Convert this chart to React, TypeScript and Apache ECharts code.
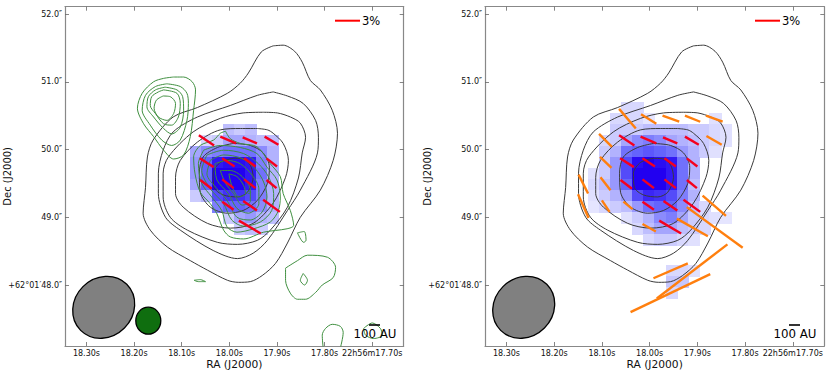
import React, { useEffect, useRef } from "react";
import * as echarts from "echarts";

type P = [number, number];

const raTicks = [18.3, 18.2, 18.1, 18.0, 17.9, 17.8, 17.7];
const decTicks = [52, 51, 50, 49, 48];
const raLabels = ["18.30s", "18.20s", "18.10s", "18.00s", "17.90s", "17.80s", "22h56m17.70s"];
const decLabels = ["52.0″", "51.0″", "50.0″", "49.0″", "+62°01′48.0″"];

const contourA: P[] = [[17.908,51.53],[17.887,51.54],[17.863,51.45],[17.847,51.29],[17.83,51.02],[17.809,50.88],[17.784,50.58],[17.773,50.24],[17.782,49.84],[17.809,49.4],[17.851,49.0],[17.878,48.62],[17.903,48.32],[17.931,48.14],[17.956,48.05],[17.981,48.04],[18.004,48.07],[18.046,48.22],[18.082,48.36],[18.13,48.56],[18.166,48.81],[18.181,49.06],[18.176,49.44],[18.172,49.89],[18.16,50.14],[18.118,50.48],[18.067,50.62],[18.004,50.83],[17.977,50.98],[17.96,51.13],[17.933,51.44]];
const contourB: P[] = [[17.908,50.85],[17.878,50.79],[17.845,50.68],[17.819,50.43],[17.813,50.18],[17.815,49.95],[17.851,49.4],[17.878,49.1],[17.92,48.66],[17.95,48.47],[17.983,48.39],[18.034,48.51],[18.103,48.81],[18.134,49.0],[18.149,49.35],[18.149,49.65],[18.139,49.99],[18.118,50.26],[18.067,50.48],[17.998,50.65],[17.941,50.8]];
const contourC: P[] = [[17.929,50.55],[17.899,50.54],[17.872,50.48],[17.851,50.39],[17.84,50.18],[17.847,49.95],[17.855,49.58],[17.878,49.15],[17.914,48.81],[17.941,48.66],[17.983,48.6],[18.025,48.63],[18.088,48.81],[18.124,49.0],[18.139,49.3],[18.139,49.65],[18.128,49.89],[18.076,50.26],[18.019,50.46],[17.971,50.54]];
const contourD: P[] = [[17.941,50.31],[17.92,50.29],[17.908,50.24],[17.887,50.09],[17.876,49.84],[17.882,49.59],[17.908,49.21],[17.95,48.91],[17.998,48.84],[18.046,48.91],[18.097,49.15],[18.113,49.35],[18.113,49.59],[18.103,49.84],[18.067,50.11],[18.019,50.29],[17.977,50.31]];
const contourE: P[] = [[17.992,50.09],[17.956,50.06],[17.929,49.95],[17.916,49.74],[17.92,49.5],[17.941,49.25],[17.971,49.1],[18.004,49.06],[18.04,49.15],[18.061,49.37],[18.063,49.65],[18.055,49.89],[18.025,50.03]];
const contourF: P[] = [[17.992,49.87],[17.971,49.86],[17.956,49.77],[17.95,49.59],[17.962,49.37],[17.983,49.3],[18.013,49.33],[18.032,49.44],[18.034,49.65],[18.019,49.81]];
const blackContours = [contourA, contourB, contourC, contourD, contourE, contourF];

const northA: P[] = [[18.117,51.07],[18.096,51.07],[18.078,51.0],[18.071,50.88],[18.075,50.58],[18.082,50.19],[18.096,49.92],[18.117,49.86],[18.138,49.99],[18.159,50.19],[18.18,50.38],[18.193,50.61],[18.183,50.83],[18.159,51.0],[18.138,51.05]];
const northB: P[] = [[18.131,50.97],[18.103,50.93],[18.089,50.83],[18.086,50.68],[18.089,50.43],[18.103,50.14],[18.121,50.06],[18.142,50.14],[18.166,50.36],[18.183,50.58],[18.176,50.8],[18.155,50.93]];
const northC: P[] = [[18.135,50.92],[18.11,50.88],[18.098,50.78],[18.096,50.58],[18.103,50.33],[18.121,50.23],[18.138,50.31],[18.159,50.48],[18.173,50.63],[18.17,50.78],[18.155,50.88]];
const northD: P[] = [[18.138,50.88],[18.11,50.83],[18.103,50.68],[18.107,50.48],[18.121,50.36],[18.138,50.38],[18.155,50.53],[18.166,50.65],[18.163,50.78],[18.149,50.85]];
const northE: P[] = [[18.139,50.79],[18.124,50.78],[18.113,50.68],[18.117,50.53],[18.131,50.43],[18.149,50.48],[18.158,50.61],[18.153,50.73]];
const coreA: P[] = [[18.008,50.27],[17.998,50.16],[17.977,50.09],[17.942,50.04],[17.914,49.79],[17.893,49.6],[17.887,49.35],[17.872,49.1],[17.865,48.88],[17.879,48.83],[17.928,48.78],[17.97,48.68],[17.998,48.71],[18.012,48.81],[18.026,49.05],[18.04,49.2],[18.061,49.37],[18.072,49.64],[18.075,49.89],[18.061,50.06],[18.033,50.14],[18.019,50.24]];
const coreB: P[] = [[18.054,49.99],[18.019,50.06],[17.977,50.03],[17.942,49.94],[17.921,49.74],[17.9,49.55],[17.893,49.3],[17.897,49.1],[17.914,48.93],[17.949,48.83],[17.984,48.78],[18.005,48.86],[18.016,49.1],[18.037,49.3],[18.058,49.5],[18.065,49.79]];
const coreC: P[] = [[18.047,49.92],[18.012,49.99],[17.97,49.94],[17.939,49.79],[17.918,49.6],[17.907,49.35],[17.911,49.1],[17.935,48.93],[17.97,48.87],[17.995,48.96],[18.012,49.2],[18.04,49.42],[18.058,49.69]];
const coreD: P[] = [[18.04,49.84],[18.012,49.92],[17.974,49.87],[17.946,49.72],[17.928,49.52],[17.921,49.3],[17.931,49.08],[17.956,48.96],[17.984,49.0],[18.005,49.25],[18.026,49.42],[18.047,49.64]];
const coreE: P[] = [[18.03,49.79],[18.005,49.84],[17.977,49.79],[17.952,49.62],[17.938,49.42],[17.938,49.2],[17.96,49.06],[17.984,49.13],[18.002,49.35],[18.026,49.55]];
const coreF: P[] = [[18.019,49.69],[17.998,49.69],[17.973,49.6],[17.956,49.4],[17.956,49.23],[17.973,49.18],[17.991,49.35],[18.008,49.5]];
const coreG: P[] = [[18.001,49.64],[17.984,49.6],[17.97,49.47],[17.966,49.35],[17.98,49.3],[17.994,49.45]];
const coreH: P[] = [[17.963,49.37],[17.959,49.39],[17.955,49.37],[17.959,49.35]];
const islandA: P[] = [[17.857,48.77],[17.843,48.79],[17.839,48.66],[17.844,48.63]];
const islandB: P[] = [[17.882,48.25],[17.857,48.36],[17.836,48.44],[17.794,48.41],[17.777,48.26],[17.782,48.11],[17.805,48.0],[17.819,47.89],[17.84,47.79],[17.857,47.79],[17.872,47.88],[17.882,48.07]];
const islandC: P[] = [[17.845,48.17],[17.836,48.07],[17.842,48.0],[17.851,48.07]];
const islandD: P[] = [[18.074,48.07],[18.061,48.08],[18.05,48.05],[18.065,48.05]];
const islandF: P[] = [[17.718,47.36],[17.7,47.44],[17.683,47.36],[17.679,47.26],[17.697,47.21],[17.714,47.26]];
const greenClosed = [northA, northB, northC, northD, northE, coreA, coreB, coreC, coreD, coreE, coreF, coreG, coreH, islandA, islandB, islandC, islandD, islandF];
const islandOpen: P[] = [[17.803,47.07],[17.805,47.26],[17.798,47.36],[17.784,47.42],[17.767,47.39],[17.761,47.3],[17.767,47.07]];

const redBars = [[18.064,50.21,18.032,50.06],[18.019,50.19,17.986,50.09],[17.972,50.18,17.942,50.09],[17.926,50.19,17.897,50.07],[18.062,49.87,18.033,49.74],[18.015,49.87,17.989,49.75],[17.969,49.87,17.945,49.75],[17.922,49.87,17.9,49.75],[18.061,49.55,18.037,49.42],[18.015,49.56,17.991,49.43],[17.969,49.56,17.945,49.43],[17.922,49.55,17.901,49.43],[18.015,49.23,17.991,49.11],[17.971,49.24,17.942,49.1],[17.929,49.26,17.894,49.08],[17.98,48.95,17.934,48.76]];
const orangeBars = [[18.064,50.6,18.029,50.31],[18.018,50.52,17.986,50.38],[17.973,50.5,17.938,50.41],[17.926,50.5,17.894,50.41],[17.882,50.5,17.847,50.41],[17.881,50.2,17.849,50.07],[18.106,50.23,18.079,50.04],[18.104,49.89,18.08,49.73],[18.103,49.59,18.082,49.4],[18.149,49.63,18.129,49.35],[18.15,49.34,18.128,48.99],[18.1,49.25,18.084,49.08],[18.055,49.23,18.036,49.12],[18.015,48.9,17.987,48.79],[17.943,48.98,17.878,48.72],[17.922,49.15,17.805,48.55],[17.889,49.32,17.84,49.02],[17.992,48.1,17.92,48.32],[17.985,47.8,17.837,48.6],[18.04,47.6,17.873,48.16]];

const cellRa = [18.116,18.093,18.07,18.047,18.024,18.001,17.978,17.954,17.931,17.908,17.885,17.862,17.839];
const cellDec = [50.62,50.45,50.29,50.13,49.97,49.8,49.64,49.48,49.32,49.15,48.99,48.83,48.67,48.2,48.04,47.88];
const leftFlux = [
  [0,0,0,0,0,0,0,0,0,0,0,0,0],
  [0,0,0,0,0,0,0,0,0,0,0,0,0],
  [0,0,0,0,0,.25,.2,.25,0,0,0,0,0],
  [0,0,0,.15,.2,.35,.35,.3,.25,.25,0,0,0],
  [0,0,.35,.45,.5,.55,.55,.55,.45,.3,0,0,0],
  [0,0,.4,.6,.9,.95,.95,.9,.5,.3,0,0,0],
  [0,0,.4,.6,1,1,1,.9,.55,.3,0,0,0],
  [0,0,.35,.6,1,1,1,.9,.5,.3,0,0,0],
  [0,0,.2,.3,.7,.8,.8,.7,.5,.3,0,0,0],
  [0,0,0,0,.5,.6,.6,.55,.45,.3,0,0,0],
  [0,0,0,0,0,.2,.35,.4,.3,.25,0,0,0],
  [0,0,0,0,0,0,.2,.25,.2,0,0,0,0],
  [0,0,0,0,0,0,0,0,0,0,0,0,0],
  [0,0,0,0,0,0,0,0,0,0,0,0,0],
  [0,0,0,0,0,0,0,0,0,0,0,0,0],
  [0,0,0,0,0,0,0,0,0,0,0,0,0],
];
const rightFlux = [
  [0,0,0,.15,.15,0,0,0,0,0,0,0,0],
  [0,0,.15,.15,.15,.1,0,0,0,0,0,.12,0],
  [0,0,.2,.2,.2,.25,.25,.25,.25,.2,.2,.15,.12],
  [0,.15,.2,.35,.45,.5,.45,.35,.3,.25,.2,.15,.12],
  [0,.2,.3,.55,.6,.65,.6,.55,.4,.3,.2,.12,0],
  [0,.2,.4,.7,.95,1,.95,.9,.55,.3,0,0,0],
  [.12,.2,.4,.7,1,1,1,.9,.55,.3,0,0,0],
  [.15,.25,.4,.6,1,1,1,.9,.55,.25,0,0,0],
  [.12,.2,.3,.4,.7,.85,.8,.7,.5,.3,0,0,0],
  [.1,.15,.2,.25,.4,.55,.6,.6,.45,.25,.15,0,0],
  [0,0,0,.12,.2,.3,.45,.5,.35,.2,.15,.12,.1],
  [0,0,0,0,.15,.25,.35,.35,.25,.2,.15,0,0],
  [0,0,0,0,0,.15,.2,.2,.15,.12,0,0,0],
  [0,0,0,0,0,0,0,.15,.15,.12,0,0,0],
  [0,0,0,0,0,0,0,.22,.22,0,0,0,0],
  [0,0,0,0,0,0,0,.15,0,0,0,0,0],
];

const FONT = "DejaVu Sans";
const raRange = { min: 17.634, max: 18.345 };
const decRange = { min: 47.1, max: 52.108 };
const cellW = 0.0231;
const cellH = 0.1625;

function closed(p: P[]): P[] {
  return [...p, p[0]];
}
function cellsOf(m: number[][]) {
  const out: number[][] = [];
  m.forEach((row, r) => row.forEach((v, c) => { if (v > 0) out.push([cellRa[c], cellDec[r], v]); }));
  return out;
}
function cellColor(v: number) {
  if (v <= 0.6) {
    const t = v / 0.6;
    const f = (a: number) => Math.round(255 + (a - 255) * t);
    return `rgb(${f(100)},${f(100)},${f(252)})`;
  }
  const t = (v - 0.6) / 0.4;
  const f = (a: number, b: number) => Math.round(a + (b - a) * t);
  return `rgb(${f(100, 34)},${f(100, 0)},${f(252, 240)})`;
}
const cellSeries = (i: number, m: number[][]) => ({
  type: "custom", xAxisIndex: i * 2, yAxisIndex: i * 2, data: cellsOf(m), clip: true, silent: true, z: 1,
  encode: { x: 0, y: 1 },
  renderItem: (_p: any, api: any) => {
    const ra = api.value(0), dec = api.value(1), v = api.value(2);
    const a = api.coord([ra + cellW / 2, dec + cellH / 2]);
    const b = api.coord([ra - cellW / 2, dec - cellH / 2]);
    const x0 = Math.floor(a[0]), y0 = Math.floor(a[1]), x1 = Math.ceil(b[0]), y1 = Math.ceil(b[1]);
    return { type: "rect", shape: { x: x0, y: y0, width: x1 - x0, height: y1 - y0 }, style: { fill: cellColor(v) } };
  },
});
const barSeries = (i: number, bars: number[][], color: string, width: number, z: number) => ({
  type: "custom", xAxisIndex: i * 2, yAxisIndex: i * 2, data: bars, clip: true, silent: true, z,
  encode: { x: [0, 2], y: [1, 3] },
  renderItem: (_p: any, api: any) => {
    const a = api.coord([api.value(0), api.value(1)]);
    const b = api.coord([api.value(2), api.value(3)]);
    return { type: "line", shape: { x1: a[0], y1: a[1], x2: b[0], y2: b[1] }, style: { stroke: color, lineWidth: width, lineCap: "butt" } };
  },
});
const lineSeries = (i: number, pts: P[], color: string, width: number, z: number, smooth = 0.3) => ({
  type: "line", xAxisIndex: i * 2, yAxisIndex: i * 2, data: pts, symbol: "none", smooth, clip: true, silent: true, z,
  lineStyle: { color, width },
});
const axes = (i: number) => {
  const x = (position: string, labels: boolean) => ({
    gridIndex: i, type: "value", position, inverse: true, ...raRange,
    axisLine: { show: true, onZero: false, lineStyle: { color: "#888", width: 1.2 } },
    axisTick: { show: true, inside: true, length: 4, customValues: raTicks, lineStyle: { color: "#666", width: 0.8 } },
    axisLabel: { show: labels, customValues: raTicks, margin: 3, fontSize: 8, fontFamily: FONT, color: "#111", hideOverlap: false, formatter: (v: number) => raLabels[raTicks.findIndex((t) => Math.abs(t - v) < 1e-6)] ?? "" },
    splitLine: { show: false },
    ...(labels ? { name: "RA (J2000)", nameLocation: "middle", nameGap: 12.5, nameMoveOverlap: false, nameTextStyle: { fontSize: 10.7, fontFamily: FONT, color: "#111" } } : {}),
  });
  const y = (position: string, labels: boolean) => ({
    gridIndex: i, type: "value", position, ...decRange,
    axisLine: { show: true, onZero: false, lineStyle: { color: "#888", width: 1.2 } },
    axisTick: { show: true, inside: true, length: 4, customValues: decTicks, lineStyle: { color: "#666", width: 0.8 } },
    axisLabel: { show: labels, customValues: decTicks, margin: 3, fontSize: 8, fontFamily: FONT, color: "#111", hideOverlap: false, formatter: (v: number) => decLabels[decTicks.findIndex((t) => Math.abs(t - v) < 1e-6)] ?? "" },
    splitLine: { show: false },
    ...(labels ? { name: "Dec (J2000)", nameLocation: "middle", nameGap: 52.5, nameMoveOverlap: false, nameRotate: 90, nameTextStyle: { fontSize: 10, fontFamily: FONT, color: "#111" } } : {}),
  });
  return { xs: [x("bottom", true), x("top", false)], ys: [y("left", true), y("right", false)] };
};
const decorations = (dx: number, showGreen: boolean) => {
  const items: any[] = [
    { type: "ellipse", x: 103.7 + dx, y: 307.3, rotation: 0.785, shape: { cx: 0, cy: 0, rx: 32.6, ry: 29.3 }, style: { fill: "#808080", stroke: "#000", lineWidth: 1.3 }, z: 20 },
    { type: "line", shape: { x1: 335 + dx, y1: 20.7, x2: 360 + dx, y2: 20.7 }, style: { stroke: "#f00", lineWidth: 2 }, z: 20 },
    { type: "text", x: 362 + dx, y: 21, style: { text: "3%", fontSize: 11.5, fontFamily: FONT, fill: "#000", align: "left", verticalAlign: "middle" }, z: 20 },
    { type: "line", shape: { x1: 369 + dx, y1: 325, x2: 380 + dx, y2: 325 }, style: { stroke: "#000", lineWidth: 1.6 }, z: 20 },
    { type: "text", x: 375 + dx, y: 334, style: { text: "100 AU", fontSize: 11.8, fontFamily: FONT, fill: "#000", align: "center", verticalAlign: "middle" }, z: 20 },
  ];
  if (showGreen) items.push({ type: "ellipse", x: 148.3 + dx, y: 320.7, shape: { cx: 0, cy: 0, rx: 12.5, ry: 13.5 }, style: { fill: "#0f6e0f", stroke: "#000", lineWidth: 1.3 }, z: 20 });
  return items;
};

export default function App() {
  const ref = useRef<HTMLDivElement>(null);
  useEffect(() => {
    if (!ref.current) return;
    const chart = echarts.init(ref.current, undefined, { renderer: "svg" });
    const a0 = axes(0), a1 = axes(1);
    const black = (i: number) => blackContours.map((c) => lineSeries(i, closed(c), "#3a3a3a", 1, 3));
    chart.setOption({
      animation: false,
      backgroundColor: "#fff",
      textStyle: { fontFamily: FONT },
      grid: [
        { left: 65, top: 6.7, width: 338.7, height: 339.3, outerBoundsMode: "none" },
        { left: 485, top: 6.7, width: 339.3, height: 339.3, outerBoundsMode: "none" },
      ],
      xAxis: [...a0.xs, ...a1.xs],
      yAxis: [...a0.ys, ...a1.ys],
      series: [
        cellSeries(0, leftFlux),
        ...black(0),
        ...greenClosed.map((c) => lineSeries(0, closed(c), "#3f8f3f", 1, 4)),
        lineSeries(0, islandOpen, "#3f8f3f", 1, 4),
        barSeries(0, redBars, "#f5001e", 2.4, 6),
        cellSeries(1, rightFlux),
        ...black(1),
        barSeries(1, orangeBars, "#ff7f0e", 2.4, 5),
        barSeries(1, redBars, "#f5001e", 2.4, 6),
      ],
      graphic: [...decorations(0, true), ...decorations(420, false)],
    });
    return () => chart.dispose();
  }, []);
  return <div ref={ref} style={{ position: "fixed", left: 0, top: 0, width: 831, height: 373, background: "#fff" }} />;
}
